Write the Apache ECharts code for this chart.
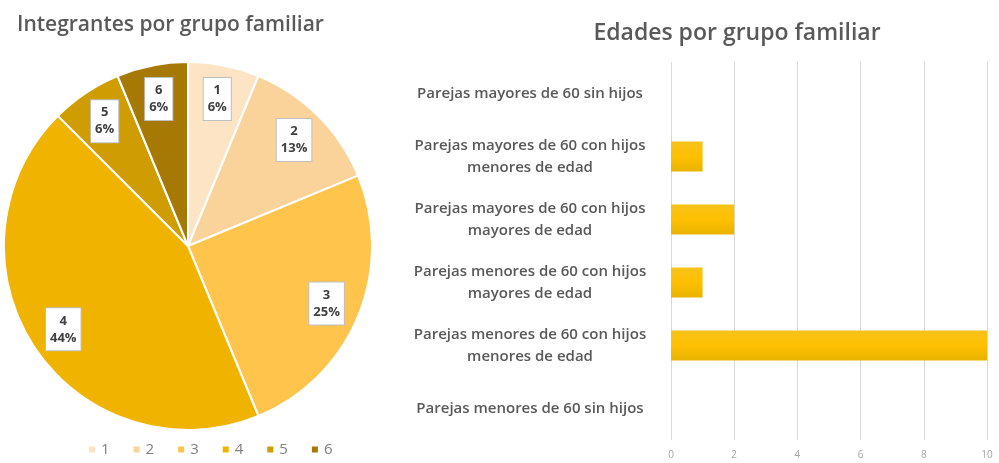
<!DOCTYPE html>
<html>
<head>
<meta charset="utf-8">
<script src="https://cdn.jsdelivr.net/npm/echarts@6/dist/echarts.min.js"></script>
<style>
  html, body { margin: 0; padding: 0; background: #fff; }
  #main { width: 999px; height: 463px; }
</style>
</head>
<body>
<div id="main"></div>
<script>
// datos del grafico de torta
var pieNames = ['1', '2', '3', '4', '5', '6'];
var pieValues = [1, 2, 4, 7, 1, 1];
var pieColors = ['#FCE4C4', '#FAD39A', '#FFC44C', '#F0B300', '#CF9C02', '#A67905'];

// datos del grafico de barras (de arriba hacia abajo)
var barCategories = [
    'Parejas mayores de 60 sin hijos',
    'Parejas mayores de 60 con hijos\nmenores de edad',
    'Parejas mayores de 60 con hijos\nmayores de edad',
    'Parejas menores de 60 con hijos\nmayores de edad',
    'Parejas menores de 60 con hijos\nmenores de edad',
    'Parejas menores de 60 sin hijos'
];
var barValues = [0, 1, 2, 1, 10, 0];
var xTicks = [0, 2, 4, 6, 8, 10];

var myChart = echarts.init(document.getElementById('main'));
var font = '"Open Sans", "Noto Sans", sans-serif';

var pieData = pieNames.map(function (n, i) {
    return { name: n, value: pieValues[i], itemStyle: { color: pieColors[i] } };
});

var option = {
    animation: false,
    textStyle: { fontFamily: font },
    title: [{
        text: 'Integrantes por grupo familiar',
        left: 12, top: 10,
        textStyle: { fontSize: 21, fontWeight: 600, color: '#595959', fontFamily: font }
    }, {
        text: 'Edades por grupo familiar',
        left: 732, top: 17, textAlign: 'center',
        textStyle: { fontSize: 23, fontWeight: 600, color: '#595959', fontFamily: font }
    }],
    legend: {
        data: pieNames,
        left: 82, top: 437,
        orient: 'horizontal',
        itemWidth: 8, itemHeight: 8, itemGap: 22,
        icon: 'rect',
        textStyle: { fontSize: 15, color: '#7f7f7f', fontFamily: font }
    },
    grid: { left: 671, right: 12, top: 62, bottom: 23 },
    xAxis: {
        type: 'value', min: 0, max: 10, interval: 2,
        axisLine: { show: false }, axisTick: { show: false },
        splitLine: { lineStyle: { color: '#D9D9D9' } },
        axisLabel: { fontSize: 10, color: '#A6A6A6', margin: 10,
            formatter: function (v) { return xTicks.indexOf(v) >= 0 ? v : ''; } }
    },
    yAxis: {
        type: 'category', data: barCategories, inverse: true,
        axisLine: { show: false }, axisTick: { show: false },
        axisLabel: { fontSize: 15, fontWeight: 600, color: '#595959', align: 'center', margin: 141, lineHeight: 22 }
    },
    series: [{
        type: 'pie',
        center: [188, 246], radius: [0, 184],
        data: pieData,
        label: { show: false }, labelLine: { show: false },
        itemStyle: { borderColor: '#fff', borderWidth: 2 }
    }, {
        // serie transparente solo para ubicar las etiquetas
        type: 'pie', silent: true,
        center: [188, 246], radius: [0, 294],
        data: pieNames.map(function (n, i) { return { name: n, value: pieValues[i] }; }),
        itemStyle: { color: 'rgba(0,0,0,0)' },
        labelLine: { show: false },
        label: {
            show: true, position: 'inside',
            formatter: function (p) { return p.name + '\n' + Math.round(p.percent) + '%'; },
            backgroundColor: '#fff', borderColor: '#BFBFBF', borderWidth: 1,
            padding: [4, 4], lineHeight: 17,
            fontSize: 13, fontWeight: 'bold', color: '#404040', fontFamily: font
        }
    }, {
        type: 'bar',
        data: barValues,
        barWidth: 30,
        itemStyle: {
            color: new echarts.graphic.LinearGradient(0, 0, 0, 1, [
                { offset: 0, color: '#F8C21A' },
                { offset: 0.5, color: '#FFC000' },
                { offset: 1, color: '#E9B300' }
            ])
        }
    }]
};

myChart.setOption(option);
</script>
</body>
</html>
